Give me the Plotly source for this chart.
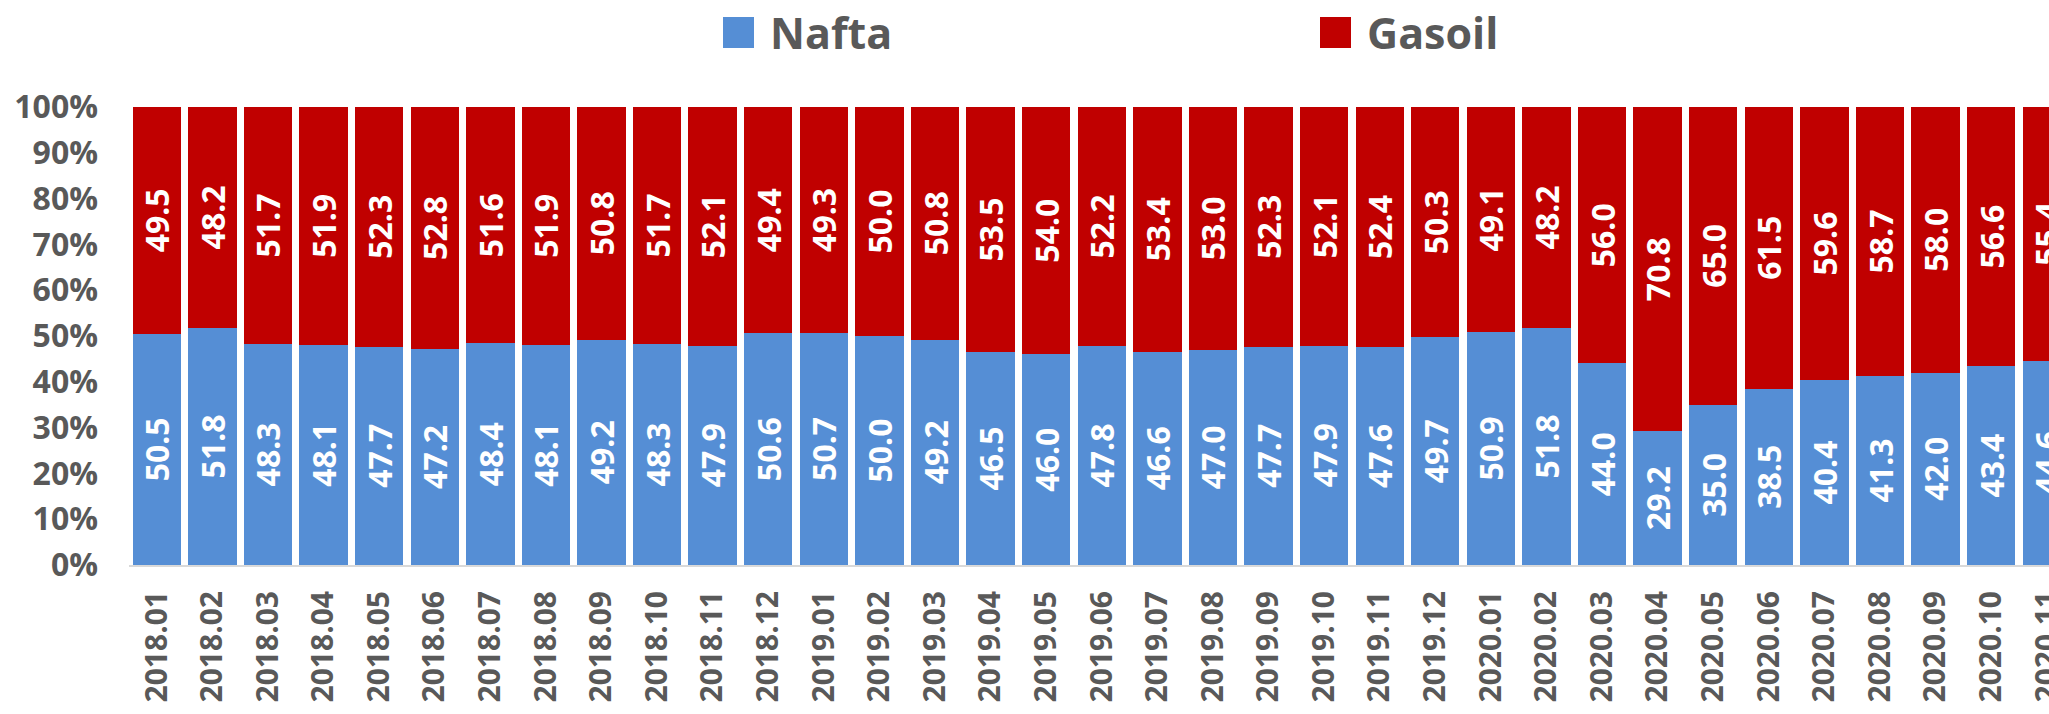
import plotly.graph_objects as go

categories = [
    "2018.01", "2018.02", "2018.03", "2018.04", "2018.05", "2018.06", "2018.07", "2018.08",
    "2018.09", "2018.10", "2018.11", "2018.12", "2019.01", "2019.02", "2019.03", "2019.04",
    "2019.05", "2019.06", "2019.07", "2019.08", "2019.09", "2019.10", "2019.11", "2019.12",
    "2020.01", "2020.02", "2020.03", "2020.04", "2020.05", "2020.06", "2020.07", "2020.08",
    "2020.09", "2020.10", "2020.11",
]
nafta = [
    50.5, 51.8, 48.3, 48.1, 47.7, 47.2, 48.4, 48.1, 49.2, 48.3, 47.9, 50.6, 50.7, 50.0,
    49.2, 46.5, 46.0, 47.8, 46.6, 47.0, 47.7, 47.9, 47.6, 49.7, 50.9, 51.8, 44.0, 29.2,
    35.0, 38.5, 40.4, 41.3, 42.0, 43.4, 44.6,
]
gasoil = [
    49.5, 48.2, 51.7, 51.9, 52.3, 52.8, 51.6, 51.9, 50.8, 51.7, 52.1, 49.4, 49.3, 50.0,
    50.8, 53.5, 54.0, 52.2, 53.4, 53.0, 52.3, 52.1, 52.4, 50.3, 49.1, 48.2, 56.0, 70.8,
    65.0, 61.5, 59.6, 58.7, 58.0, 56.6, 55.4,
]
series_names = ["Nafta", "Gasoil"]
series_colors = ["#558ED5", "#C00000"]
y_ticks = list(range(0, 101, 10))
y_tick_labels = [f"{t}%" for t in y_ticks]

W, H = 2049, 714
L, R, T, B = 129, 0, 107, 149
FONT = "Open Sans"
GREY = "#595959"

fig = go.Figure()
for name, vals, col in zip(series_names, [nafta, gasoil], series_colors):
    fig.add_trace(go.Bar(
        x=categories, y=vals, name=name,
        marker=dict(color=col, line=dict(width=0)),
        text=[f"{v:.1f}" for v in vals],
        textposition="inside", insidetextanchor="middle", textangle=-90,
        textfont=dict(family=FONT, size=32, color="white", weight="bold"),
        showlegend=False, cliponaxis=True,
    ))

pw = W - L - R
ph = H - T - B


def px2x(px):
    return (px - L) / pw


def py2y(py):
    return (H - B - py) / ph


shapes = []
annotations = []
legend_pos = [(723, 768), (1320, 1365)]
for (sq_x, tx), name, col in zip(legend_pos, series_names, series_colors):
    shapes.append(dict(type="rect", xref="paper", yref="paper",
                       x0=px2x(sq_x), x1=px2x(sq_x + 31), y0=py2y(48), y1=py2y(17),
                       fillcolor=col, line=dict(width=0)))
    annotations.append(dict(text=name, xref="paper", yref="paper", x=px2x(tx), y=py2y(33),
                            xanchor="left", yanchor="middle", showarrow=False,
                            font=dict(family=FONT, size=43, color=GREY, weight="bold")))

fig.update_layout(
    width=W, height=H,
    margin=dict(l=L, r=R, t=T, b=B, pad=0),
    barmode="stack", bargap=0.13,
    plot_bgcolor="white", paper_bgcolor="white",
    uniformtext=dict(mode="show", minsize=32),
    shapes=shapes, annotations=annotations,
    xaxis=dict(
        type="category", range=[-0.5, 34.04], automargin=False,
        tickangle=-90, showgrid=False, zeroline=False,
        showline=True, linecolor="#D9D9D9", linewidth=2,
        ticks="", ticklabelstandoff=12,
        tickfont=dict(family=FONT, size=30, color=GREY, weight="bold"),
    ),
    yaxis=dict(
        range=[0, 100], tickvals=y_ticks, ticktext=y_tick_labels, automargin=False,
        showgrid=False, zeroline=False, showline=False, ticks="",
        ticklabelstandoff=30,
        tickfont=dict(family=FONT, size=32, color=GREY, weight="bold"),
    ),
)

fig.write_html("out.html", config={"displayModeBar": False},
               post_script="document.body.style.margin='0';")
